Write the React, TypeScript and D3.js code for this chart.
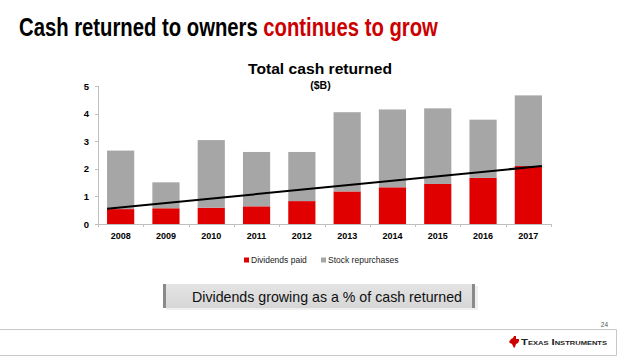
import React from "react";
import * as d3 from "d3";

const years = ["2008", "2009", "2010", "2011", "2012", "2013", "2014", "2015", "2016", "2017"];
const dividends = [0.54, 0.57, 0.59, 0.64, 0.83, 1.18, 1.33, 1.45, 1.67, 2.1];
const totals = [2.66, 1.51, 3.04, 2.61, 2.61, 4.05, 4.15, 4.19, 3.78, 4.66];
const repurchases = totals.map((t, i) => +(t - dividends[i]).toFixed(2));
const trendValues = [0.55, 2.1];
const yTicks = [0, 1, 2, 3, 4, 5];
const seriesNames = ["Dividends paid", "Stock repurchases"];

const RED = "#E00000";
const GRAY = "#A6A6A6";
const FONT = "'Liberation Sans', Arial, sans-serif";

export default function App() {
  const W = 640, H = 360;
  const left = 98, right = 551, top = 86, bottom = 224;
  const x = d3.scaleBand().domain(years).range([left, right]).paddingInner(0.4).paddingOuter(0.2);
  const y = d3.scaleLinear().domain([0, 5]).range([bottom, top]);
  const stack = d3.stack<any>().keys(["div", "rep"])(
    years.map((yr, i) => ({ year: yr, div: dividends[i], rep: repurchases[i] }))
  );
  const colors = [RED, GRAY];
  const step = x.step();
  const trendLine = d3.line<[number, number]>().x(d => d[0]).y(d => y(d[1]));
  const trendPts: [number, number][] = [
    [x(years[0])!, trendValues[0]],
    [x(years[years.length - 1])! + x.bandwidth(), trendValues[1]],
  ];

  return (
    <div style={{ position: "absolute", left: 0, top: 0, width: W, height: H }}>
      <svg width={W} height={H} style={{ display: "block", background: "#fff" }} fontFamily={FONT}>
        <defs>
          <linearGradient id="boxg" x1="0" x2="0" y1="0" y2="1">
            <stop offset="0" stopColor="#E4E4E4" />
            <stop offset="1" stopColor="#D6D6D6" />
          </linearGradient>
        </defs>
        {/* Title */}
        <g transform="translate(19,36) scale(0.78,1)">
          <text x={0} y={0} fontSize={26} fontWeight="bold" fill="#000">
            <tspan>Cash returned to owners </tspan>
            <tspan fill="#CC0000">continues to grow</tspan>
          </text>
        </g>

        {/* Chart title */}
        <text x={320} y={73.5} fontSize={15.5} fontWeight="bold" textAnchor="middle" textLength={144} lengthAdjust="spacingAndGlyphs">
          Total cash returned
        </text>
        <text x={320.5} y={88.5} fontSize={10.5} fontWeight="bold" textAnchor="middle">($B)</text>

        {/* bars */}
        {stack.map((s, si) => (
          <g key={si} fill={colors[si]}>
            {s.map((d, i) => (
              <rect key={i} x={x(years[i])} y={y(d[1])} width={x.bandwidth()} height={y(d[0]) - y(d[1])} />
            ))}
          </g>
        ))}

        {/* trend */}
        <path d={trendLine(trendPts)!} stroke="#000" strokeWidth={2} fill="none" />

        {/* axes */}
        <g stroke="#BFBFBF" strokeWidth={1}>
          <line x1={left + 0.5} x2={left + 0.5} y1={top} y2={bottom} />
          <line x1={left} x2={right} y1={bottom + 0.5} y2={bottom + 0.5} />
          {yTicks.map(t => (
            <line key={t} x1={left - 3} x2={left} y1={Math.round(y(t)) + 0.5} y2={Math.round(y(t)) + 0.5} />
          ))}
          {years.map((yr, i) => (
            <line key={yr} x1={Math.round(left + step * (i + 1)) + 0.5} x2={Math.round(left + step * (i + 1)) + 0.5} y1={bottom} y2={bottom + 3} />
          ))}
          <line x1={left + 0.5} x2={left + 0.5} y1={bottom} y2={bottom + 3} />
        </g>
        {yTicks.map(t => (
          <text key={t} x={89} y={y(t) + 3.5} fontSize={9.5} fontWeight="bold" textAnchor="end">{t}</text>
        ))}
        {years.map(yr => (
          <text key={yr} x={x(yr)! + x.bandwidth() / 2} y={239} fontSize={9} fontWeight="bold" textAnchor="middle">{yr}</text>
        ))}

        {/* legend */}
        <rect x={244} y={257.5} width={5} height={5} fill={RED} />
        <text x={251} y={262.5} fontSize={8.5} fill="#222">{seriesNames[0]}</text>
        <rect x={321} y={257.5} width={5} height={5} fill={GRAY} />
        <text x={328} y={262.5} fontSize={8.5} fill="#222">{seriesNames[1]}</text>

        {/* callout box */}
        <rect x={166} y={286} width={312} height={24} fill="#EFEFEF" />
        <rect x={163} y={284} width={312} height={24} fill="url(#boxg)" />
        <rect x={163} y={284} width={3} height={24} fill="#8A8A8A" />
        <rect x={472} y={284} width={3} height={24} fill="#8A8A8A" />
        <text x={327} y={301.5} fontSize={14.5} textAnchor="middle" fill="#111" textLength={270} lengthAdjust="spacingAndGlyphs">
          Dividends growing as a % of cash returned
        </text>

        {/* footer */}
        <text x={608} y={327} fontSize={6.5} textAnchor="end" fill="#555">24</text>
        <path d="M0,329.5 H616.5 V355.5 H0" fill="none" stroke="#C8C8C8" strokeWidth={1} />
        <path d="M511,339 l2,-1 l1,-2 l2,0 l0,3 l3,0 l0,2 l-1,2 l-2,1 l-1,3 l-1,1 l-1,-2 l-1,-2 l-2,-1 l-1,-1 z" fill="#CC0000" />
        <text x={521} y={345} fontSize={9} fill="#222" fontWeight="bold" style={{ fontVariant: "small-caps" }} textLength={86} lengthAdjust="spacingAndGlyphs">
          Texas Instruments
        </text>
      </svg>
    </div>
  );
}
